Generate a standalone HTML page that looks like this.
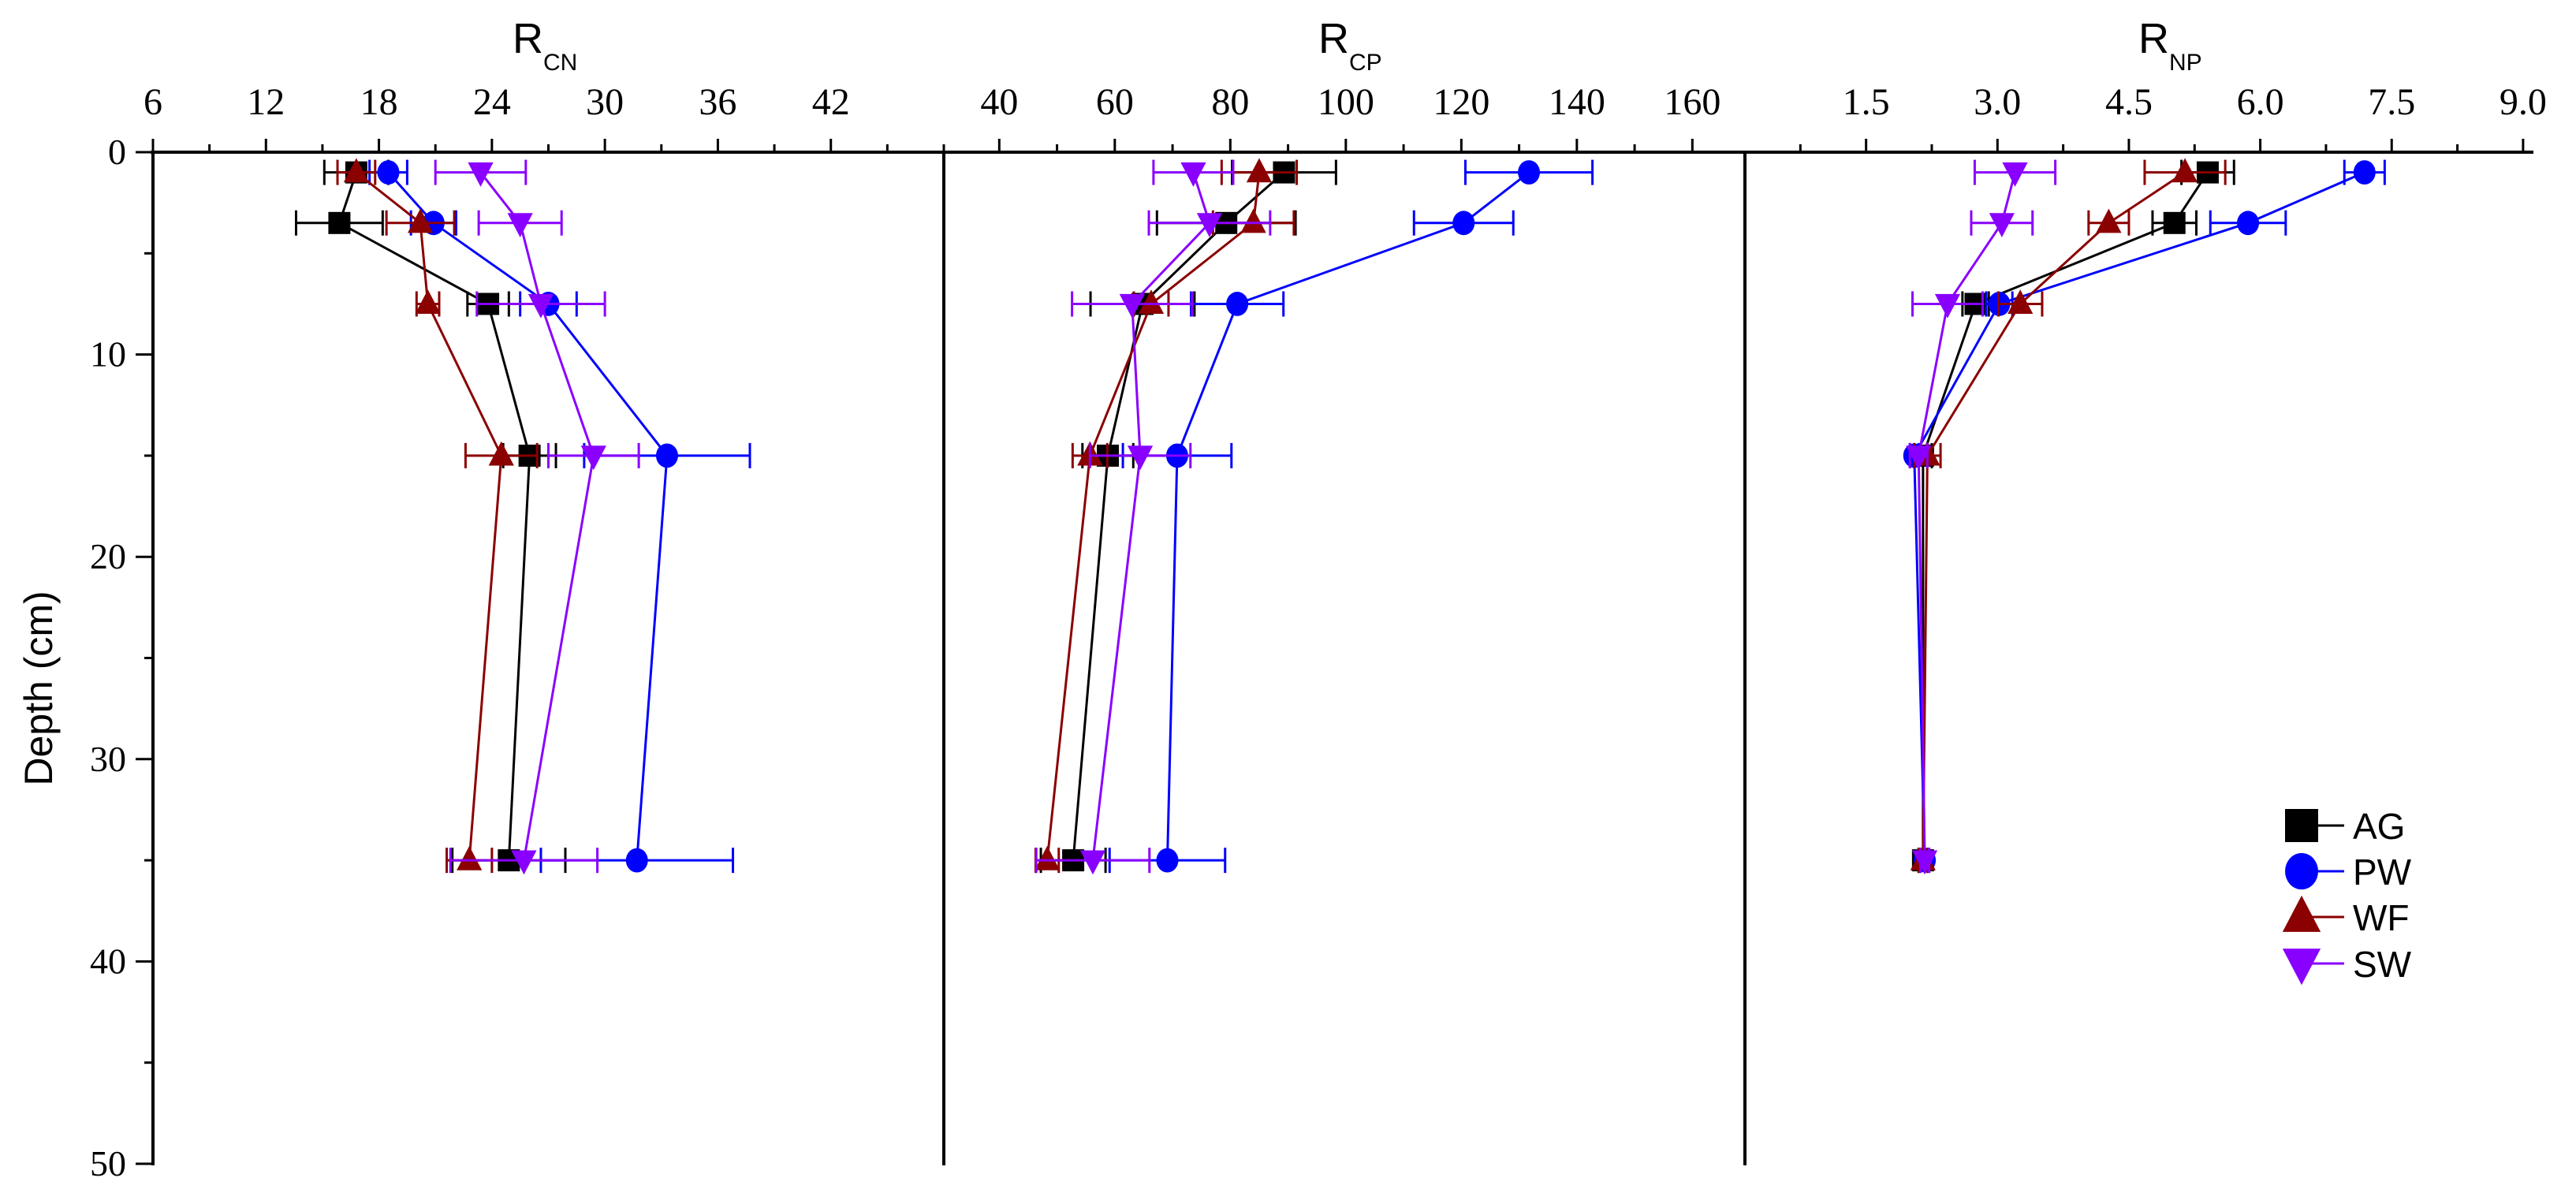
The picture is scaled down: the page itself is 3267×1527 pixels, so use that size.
<!DOCTYPE html>
<html><head><meta charset="utf-8"><style>
html,body{margin:0;padding:0;background:#fff;}
svg{display:block;}
text{font-family:"Liberation Serif",serif;}
.sans{font-family:"Liberation Sans",sans-serif;}
</style></head><body>
<svg id="chart" width="3267" height="1527" viewBox="0 0 3267 1527" xmlns="http://www.w3.org/2000/svg">
<rect x="0" y="0" width="3267" height="1527" fill="#fff"/>
<g id="axes"></g>
<g id="series"></g>
<g id="legend"></g>
</svg>
<script>
// ---- data ----
const depths = [1, 3.5, 7.5, 15, 35];
const seriesNames = ["AG", "PW", "WF", "SW"];
// R_CN
const cnAG = [16.8, 15.9, 23.8, 26.0, 24.9];
const cnAGErr = [1.7, 2.3, 1.1, 1.4, 3.0];
const cnPW = [18.5, 20.9, 27.0, 33.3, 31.7];
const cnPWErr = [1.0, 1.2, 1.5, 4.4, 5.1];
const cnWF = [16.8, 20.2, 20.6, 24.5, 22.8];
const cnWFErr = [1.0, 1.8, 0.6, 1.9, 1.2];
const cnSW = [23.4, 25.5, 26.6, 29.4, 25.7];
const cnSWErr = [2.4, 2.2, 3.4, 2.4, 3.9];
// R_CP
const cpAG = [89.3, 79.3, 64.8, 58.8, 52.8];
const cpAGErr = [9, 12, 9, 4.4, 5.6];
const cpPW = [131.7, 120.4, 81.2, 70.8, 69.1];
const cpPWErr = [11, 8.6, 8, 9.4, 10];
const cpWF = [85, 84, 66.3, 55.7, 48.3];
const cpWFErr = [6.5, 7, 3, 3, 2];
const cpSW = [73.6, 76.4, 63, 64.4, 56.2];
const cpSWErr = [6.9, 10.5, 10.4, 8.7, 9.8];
// R_NP
const npAG = [5.4, 5.02, 2.75, 2.15, 2.15];
const npAGErr = [0.3, 0.25, 0.15, 0.1, 0.05];
const npPW = [7.19, 5.86, 3.02, 2.05, 2.17];
const npPWErr = [0.23, 0.43, 0.15, 0.05, 0.05];
const npWF = [5.14, 4.27, 3.26, 2.2, 2.15];
const npWFErr = [0.46, 0.23, 0.25, 0.15, 0.05];
const npSW = [3.2, 3.05, 2.43, 2.1, 2.17];
const npSWErr = [0.46, 0.35, 0.4, 0.1, 0.05];
// ticks
const cnTicks = [6, 12, 18, 24, 30, 36, 42];
const cpTicks = [40, 60, 80, 100, 120, 140, 160];
const npTicks = ["1.5", "3.0", "4.5", "6.0", "7.5", "9.0"];
const depthTicks = [0, 10, 20, 30, 40, 50];

const NS = "http://www.w3.org/2000/svg";
function mk(tag, attrs, parent) {
  const e = document.createElementNS(NS, tag);
  for (const k in attrs) e.setAttribute(k, attrs[k]);
  parent.appendChild(e);
  return e;
}
const axesG = document.getElementById("axes");
const seriesG = document.getElementById("series");
const legendG = document.getElementById("legend");

const yTop = 193, yBot = 1476;
function yScale(d) { return yTop + (d / 50) * (yBot - yTop); }
const panels = [
  {key: "cn", x0: 194, x1: 1197, v0: 6, v1: 48, ticks: cnTicks, minor: 3, title: "CN", tx: 650,
   data: [cnAG, cnPW, cnWF, cnSW], err: [cnAGErr, cnPWErr, cnWFErr, cnSWErr]},
  {key: "cp", x0: 1197, x1: 2213, v0: 30.4, v1: 169.1, ticks: cpTicks, minor: 10, title: "CP", tx: 1672,
   data: [cpAG, cpPW, cpWF, cpSW], err: [cpAGErr, cpPWErr, cpWFErr, cpSWErr]},
  {key: "np", x0: 2213, x1: 3211, v0: 0.117, v1: 9.1, ticks: npTicks, minor: 0.75, title: "NP", tx: 2712,
   data: [npAG, npPW, npWF, npSW], err: [npAGErr, npPWErr, npWFErr, npSWErr]}
];
panels.forEach(p => { p.sc = v => p.x0 + (v - p.v0) / (p.v1 - p.v0) * (p.x1 - p.x0); });

// top axis line
let el = mk("line", {x1: 191, y1: yTop, x2: 3213, y2: yTop, stroke: "#000", "stroke-width": 4}, axesG);


// left axis + dividers
[194, 1197, 2213].forEach((x, i) => {
  const l = mk("line", {x1: x, y1: yTop, x2: x, y2: yBot + 2, stroke: "#000", "stroke-width": 4}, axesG);
  
  
});

panels.forEach(p => {
  // minor ticks
  for (let v = Math.ceil(p.v0 / p.minor) * p.minor; v <= p.v1 + 1e-6; v += p.minor) {
    const x = p.sc(v);
    const isMajor = p.ticks.some(t => Math.abs(parseFloat(t) - v) < 1e-6);
    const t = mk("line", {x1: x, y1: yTop, x2: x, y2: yTop - (isMajor ? 17 : 10), stroke: "#000", "stroke-width": 3}, axesG);
    
    
  }
  p.ticks.forEach(tv => {
    const x = p.sc(parseFloat(tv));
    const t = mk("text", {x: x, y: 145, "font-size": 48, "text-anchor": "middle", fill: "#000"}, axesG);
    t.textContent = tv;
    
    
  });
  const tt = mk("text", {x: p.tx, y: 67, "font-size": 54, fill: "#000", class: "sans"}, axesG);
  
  
  const r = mk("tspan", {}, tt); r.textContent = "R";
  const s = mk("tspan", {dy: 22, "font-size": 30}, tt); s.textContent = p.title;
});

// depth ticks
for (let d = 0; d <= 50; d += 5) {
  const y = yScale(d);
  const major = d % 10 === 0;
  const t = mk("line", {x1: 194, y1: y, x2: 194 - (major ? 22 : 11), y2: y, stroke: "#000", "stroke-width": 3}, axesG);
  
  
}
depthTicks.forEach(d => {
  const t = mk("text", {x: 160, y: yScale(d) + 15, "font-size": 46, "text-anchor": "end", fill: "#000"}, axesG);
  t.textContent = d;
  
  
});
const yt = mk("text", {x: 0, y: 0, "font-size": 50, "text-anchor": "middle", class: "sans", transform: "translate(66,873) rotate(-90)", fill: "#000"}, axesG);
yt.textContent = "Depth (cm)";



const colors = ["#000000", "#0000ff", "#8b0000", "#8a00ff"];
const shapes = ["square", "circle", "up", "down"];
function marker(parent, shape, cx, cy, r, color) {
  let m;
  if (shape === "square") m = mk("rect", {x: cx - r, y: cy - r, width: 2 * r, height: 2 * r, fill: color}, parent);
  else if (shape === "circle") m = mk("ellipse", {cx: cx, cy: cy, rx: r, ry: r * 1.1, fill: color}, parent);
  else if (shape === "up") m = mk("polygon", {points: `${cx},${cy - r * 1.3} ${cx - r * 1.15},${cy + r * 0.9} ${cx + r * 1.15},${cy + r * 0.9}`, fill: color}, parent);
  else m = mk("polygon", {points: `${cx},${cy + r * 1.3} ${cx - r * 1.15},${cy - r * 0.9} ${cx + r * 1.15},${cy - r * 0.9}`, fill: color}, parent);
  return m;
}

panels.forEach(p => {
  p.data.forEach((vals, si) => {
    const g = mk("g", {}, seriesG);
    
    
    const c = colors[si];
    const errs = p.err[si];
    vals.forEach((v, i) => {
      const y = yScale(depths[i]);
      const xl = p.sc(v - errs[i]), xr = p.sc(v + errs[i]);
      const eb = mk("path", {d: `M${xl},${y}H${xr}M${xl},${y - 16}V${y + 16}M${xr},${y - 16}V${y + 16}`, stroke: c, "stroke-width": 3, fill: "none"}, g);
      
      
    });
    const pts = vals.map((v, i) => p.sc(v) + "," + yScale(depths[i])).join(" ");
    const ln = mk("polyline", {points: pts, stroke: c, "stroke-width": 3, fill: "none"}, g);
    
    
    vals.forEach((v, i) => {
      const m = marker(g, shapes[si], p.sc(v), yScale(depths[i]), 14, c);
      
      
    });
  });
});

// legend
const legY = [1047, 1105, 1163, 1222];
seriesNames.forEach((n, i) => {
  const g = mk("g", {}, legendG);
  
  
  const ln = mk("line", {x1: 2920, y1: legY[i], x2: 2973, y2: legY[i], stroke: colors[i], "stroke-width": 3}, g);
  
  
  const m = marker(g, shapes[i], 2919, legY[i], 21, colors[i]);
  
  
  const t = mk("text", {x: 2984, y: legY[i] + 17, "font-size": 46, class: "sans", fill: "#000"}, g);
  t.textContent = n;
  
  
});
</script>
</body></html>
